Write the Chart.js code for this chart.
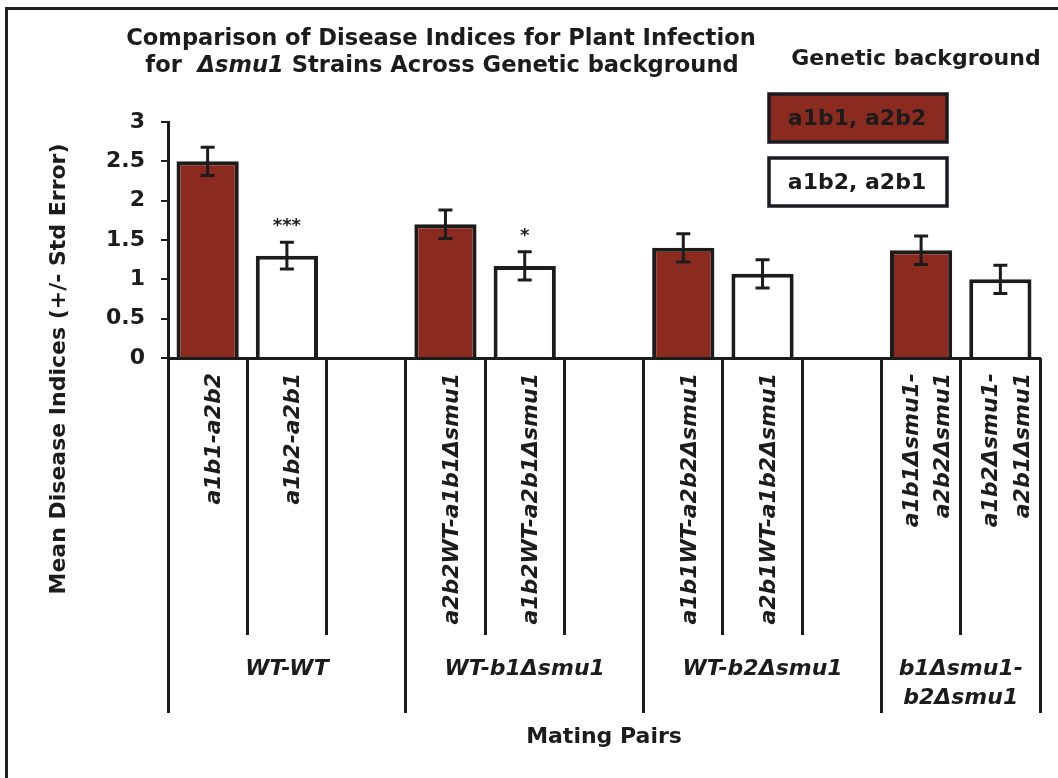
<!DOCTYPE html>
<html>
<head>
<meta charset="utf-8">
<script src="https://cdn.jsdelivr.net/npm/chart.js@4.4.1/dist/chart.umd.min.js"></script>
<style>
html,body{margin:0;padding:0;background:#fff;}
canvas{display:block;}
</style>
</head>
<body>
<canvas id="c" width="1058" height="778"></canvas>
<script>
// ---------------- data ----------------
const groupNames = ["WT-WT", "WT-b1\u0394smu1", "WT-b2\u0394smu1", ["b1\u0394smu1-", "b2\u0394smu1"]];
const pairsA = ["a1b1-a2b2", "a2b2WT-a1b1\u0394smu1", "a1b1WT-a2b2\u0394smu1", ["a1b1\u0394smu1-", "a2b2\u0394smu1"]];
const pairsB = ["a1b2-a2b1", "a1b2WT-a2b1\u0394smu1", "a2b1WT-a1b2\u0394smu1", ["a1b2\u0394smu1-", "a2b1\u0394smu1"]];
const meanA = [2.50, 1.70, 1.40, 1.37];
const errA  = [0.18, 0.18, 0.18, 0.18];
const meanB = [1.30, 1.17, 1.07, 1.00];
const errB  = [0.17, 0.18, 0.18, 0.18];
const signifB = ["***", "*", "", ""];
const seriesNames = ["a1b1, a2b2", "a1b2, a2b1"];
const seriesColors = ["#8b2b1f", "#ffffff"];
const titleLine1 = "Comparison of Disease Indices for Plant Infection";
const titleLine2 = [["for  ", false], ["\u0394smu1", true], [" Strains Across Genetic background", false]];
const legendTitle = "Genetic background";
const yTitle = "Mean Disease Indices (+/- Std Error)";
const xTitle = "Mating Pairs";
const yMin = 0, yMax = 3, yStep = 0.5;

// ---------------- build slot layout ----------------
const slotLabels = [], dataA = [], dataB = [], eA = [], eB = [], mB = [];
const groupBounds = [0];
groupNames.forEach((g, i) => {
  slotLabels.push(pairsA[i]); dataA.push(meanA[i]); dataB.push(null); eA.push(errA[i]); eB.push(null); mB.push("");
  slotLabels.push(pairsB[i]); dataA.push(null); dataB.push(meanB[i]); eA.push(null); eB.push(errB[i]); mB.push(signifB[i]);
  if (i < groupNames.length - 1) {
    slotLabels.push(""); dataA.push(null); dataB.push(null); eA.push(null); eB.push(null); mB.push("");
  }
  groupBounds.push(slotLabels.length);
});

const INK = "#1c1c1c";
const FAM = '"DejaVu Sans", sans-serif';
const F = (sz, it) => (it ? "italic " : "") + "bold " + sz + "px " + FAM;

const decor = {
  id: "decor",
  beforeDraw(chart) {
    const ctx = chart.ctx;
    ctx.save();
    ctx.fillStyle = "#fff";
    ctx.fillRect(0, 0, chart.width, chart.height);
    ctx.fillStyle = "#222";
    ctx.fillRect(5, 7, chart.width - 5, 3);
    ctx.fillRect(5, 7, 3, chart.height - 7);
    ctx.restore();
  },
  afterDatasetsDraw(chart) {
    const ctx = chart.ctx, ys = chart.scales.y;
    ctx.save();
    ctx.strokeStyle = INK; ctx.fillStyle = INK; ctx.lineWidth = 3;
    chart.data.datasets.forEach((ds, di) => {
      const meta = chart.getDatasetMeta(di);
      ds.data.forEach((v, i) => {
        if (v == null) return;
        const e = ds.errors[i];
        const x = meta.data[i].x;
        const yt = ys.getPixelForValue(v + e), yb = ys.getPixelForValue(v - e);
        ctx.beginPath();
        ctx.moveTo(x, yt); ctx.lineTo(x, yb);
        ctx.moveTo(x - 7, yt); ctx.lineTo(x + 7, yt);
        ctx.moveTo(x - 7, yb); ctx.lineTo(x + 7, yb);
        ctx.stroke();
        if (ds.marks && ds.marks[i]) {
          ctx.font = F(18, false);
          ctx.textAlign = "center"; ctx.textBaseline = "alphabetic";
          ctx.fillText(ds.marks[i], x, yt - 11);
        }
      });
    });
    ctx.restore();
  },
  afterDraw(chart) {
    const ctx = chart.ctx, xs = chart.scales.x, area = chart.chartArea;
    const n = slotLabels.length, slot = (area.right - area.left) / n;
    ctx.save();
    ctx.fillStyle = INK; ctx.strokeStyle = INK;
    // separators below the axis
    ctx.lineWidth = 3;
    for (let k = 0; k <= n; k++) {
      const long = groupBounds.includes(k);
      const x = Math.floor(area.left + k * slot) + 0.5;
      ctx.beginPath();
      ctx.moveTo(x, area.bottom);
      ctx.lineTo(x, long ? 713 : 635);
      ctx.stroke();
    }
    // category labels (rotated)
    ctx.font = F(22, true);
    ctx.textAlign = "right"; ctx.textBaseline = "alphabetic";
    slotLabels.forEach((lab, i) => {
      if (!lab) return;
      const lines = Array.isArray(lab) ? lab : [lab];
      const cx = xs.getPixelForValue(i);
      lines.forEach((ln, j) => {
        const bx = cx + 12.5 - (lines.length - 1) * 31.6 / 2 + j * 31.6;
        ctx.save();
        ctx.translate(bx, 373);
        ctx.rotate(-Math.PI / 2);
        ctx.fillText(ln, 0, 0);
        ctx.restore();
      });
    });
    // group labels
    ctx.textAlign = "center";
    groupNames.forEach((g, i) => {
      const x0 = area.left + groupBounds[i] * slot;
      const x1 = area.left + (i < groupNames.length - 1 ? groupBounds[i + 1] : n) * slot;
      const cx = (x0 + x1) / 2;
      const lines = Array.isArray(g) ? g : [g];
      lines.forEach((ln, j) => ctx.fillText(ln, cx, 675 + j * 28.5));
    });
    // axis titles
    ctx.font = F(22, false);
    ctx.fillText(xTitle, (area.left + area.right) / 2, 743);
    ctx.save();
    ctx.translate(65, 369);
    ctx.rotate(-Math.PI / 2);
    ctx.fillText(yTitle, 0, 0);
    ctx.restore();
    // chart title
    ctx.font = F(22.6, false);
    ctx.fillText(titleLine1, 441, 45);
    let total = 0;
    titleLine2.forEach(([t, it]) => { ctx.font = F(22.6, it); total += ctx.measureText(t).width; });
    let x = 442 - total / 2;
    ctx.textAlign = "left";
    titleLine2.forEach(([t, it]) => { ctx.font = F(22.6, it); ctx.fillText(t, x, 72); x += ctx.measureText(t).width; });
    // legend
    ctx.font = F(22, false);
    ctx.textAlign = "center";
    ctx.fillText(legendTitle, 916, 65);
    chart.data.datasets.forEach((ds, di) => {
      const bx = 769, by = 94 + di * 64, bw = 178, bh = 48;
      ctx.fillStyle = ds.backgroundColor;
      ctx.fillRect(bx, by, bw, bh);
      ctx.lineWidth = 3.5; ctx.strokeStyle = "#1a1a22";
      ctx.strokeRect(bx, by, bw, bh);
      ctx.fillStyle = INK;
      ctx.textBaseline = "middle";
      ctx.fillText(ds.label, bx + bw / 2 - 1, by + bh / 2 + 1);
      ctx.textBaseline = "alphabetic";
    });
    ctx.restore();
  }
};

new Chart(document.getElementById("c"), {
  type: "bar",
  data: {
    labels: slotLabels,
    datasets: [
      { label: seriesNames[0], data: dataA, errors: eA, marks: null,
        backgroundColor: seriesColors[0], borderColor: INK, borderWidth: 4 },
      { label: seriesNames[1], data: dataB, errors: eB, marks: mB,
        backgroundColor: seriesColors[1], borderColor: INK, borderWidth: 4 }
    ]
  },
  options: {
    responsive: false,
    animation: false,
    devicePixelRatio: 1,
    skipNull: true,
    barPercentage: 0.785,
    categoryPercentage: 1.0,
    layout: { padding: { top: 122, right: 18, left: 0, bottom: 0 } },
    plugins: { legend: { display: false }, title: { display: false }, tooltip: { enabled: false } },
    scales: {
      x: {
        grid: { display: false },
        border: { display: true, color: INK, width: 3 },
        ticks: { display: false },
        afterFit: s => { s.height = 420; }
      },
      y: {
        min: yMin, max: yMax,
        ticks: { stepSize: yStep, color: INK, padding: 16,
                 callback: v => String(+v),
                 font: { family: "DejaVu Sans", weight: "bold", size: 22 } },
        grid: { display: true, drawOnChartArea: false, drawTicks: true, tickLength: 7, color: INK, lineWidth: 2 },
        border: { display: true, color: INK, width: 3 },
        afterFit: s => { s.width = 168; }
      }
    }
  },
  plugins: [decor]
});
</script>
</body>
</html>
